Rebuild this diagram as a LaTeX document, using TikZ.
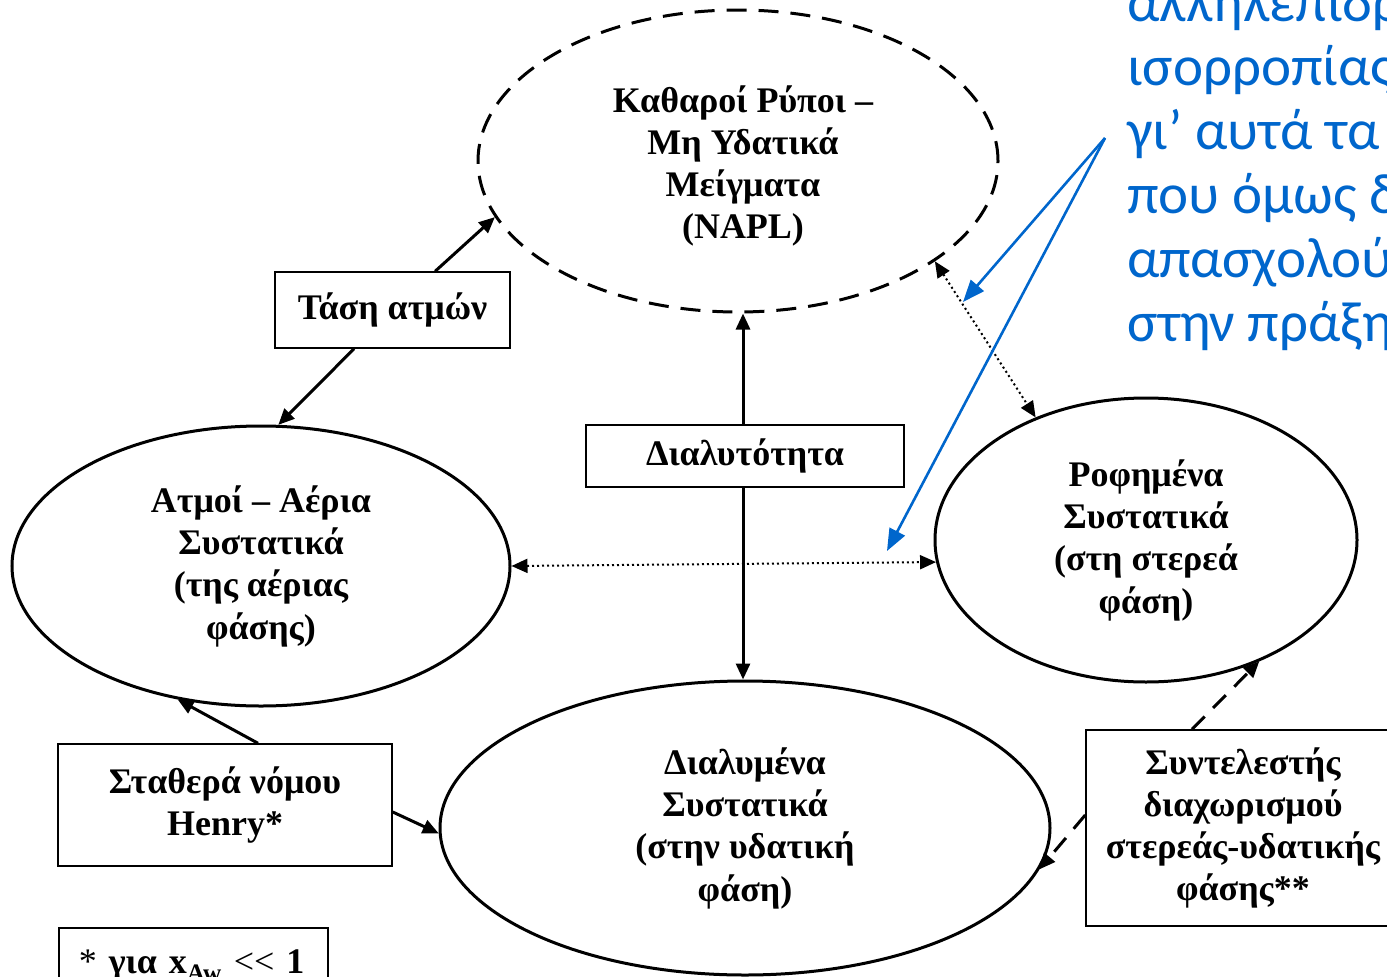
\documentclass[tikz,border=0pt]{standalone}
\usepackage{fontspec}
\setmainfont{Liberation Serif}
\newfontfamily\bluefont{Carlito}
\usetikzlibrary{shapes.geometric,arrows.meta,calc}
\definecolor{noteblue}{RGB}{0,102,204}
\begin{document}
\begin{tikzpicture}[x=1pt,y=-1pt,
  phase/.style={ellipse,draw,line width=3pt,inner sep=0pt,align=center,
    font=\bfseries\fontsize{36}{42.3}\selectfont},
  phasetext/.style={inner sep=0pt,align=center,font=\bfseries\fontsize{36}{42.3}\selectfont},
  propbox/.style={rectangle,draw,line width=1.5pt,inner sep=0pt,align=center,fill=white,
    font=\bfseries\fontsize{36}{42}\selectfont},
  tip/.style={-{Triangle[length=16pt,width=14pt]}},
  bitip/.style={{Triangle[length=16pt,width=14pt]}-{Triangle[length=16pt,width=14pt]}},
  solidlink/.style={line width=3pt},
  dotlink/.style={line width=2pt,dash pattern=on 2pt off 3pt},
  dashlink/.style={line width=3pt,dash pattern=on 18pt off 12pt},
  bluearrow/.style={noteblue,line width=2.6pt,-{Triangle[length=22pt,width=17pt]}}
]
\useasboundingbox (0,0) rectangle (1387,977);
\clip (0,0) rectangle (1387,977);

% phases
\node[phase,minimum width=520pt,minimum height=302pt,dash pattern=on 20pt off 12pt] (napl) at (738,161) {};
\node[phasetext] (napllabel) at (743,166) {Καθαροί Ρύποι –\\Μη Υδατικά\\Μείγματα\\(NAPL)};
\node[phase,minimum width=498pt,minimum height=280pt] (vap) at (261,566)
  {Ατμοί – Αέρια\\Συστατικά\\(της αέριας\\φάσης)};
\node[phase,minimum width=422pt,minimum height=284pt] (sorb) at (1146,540)
  {Ροφημένα\\Συστατικά\\(στη στερεά\\φάση)};
\node[phase,minimum width=610pt,minimum height=294pt] (diss) at (745,828)
  {Διαλυμένα\\Συστατικά\\(στην υδατική\\φάση)};

% property boxes
\node[propbox,minimum width=235pt,minimum height=76pt] (vp) at (392.5,310) {Τάση ατμών};
\node[propbox,minimum width=318pt,minimum height=62pt] (sol) at (745,456) {Διαλυτότητα};
\node[propbox,minimum width=334pt,minimum height=122pt] (henry) at (225,805) {Σταθερά νόμου\\Henry*};
\node[propbox,minimum width=314pt,minimum height=196pt] (kd) at (1243,828)
  {Συντελεστής\\διαχωρισμού\\στερεάς-υδατικής\\φάσης**};
\node[propbox,minimum height=76pt,anchor=north west,inner xsep=20pt,text width=229pt,align=left,
  font=\fontsize{36}{42}\selectfont] (note) at (58,927)
  {* \textbf{για x\textsubscript{\raisebox{-4pt}{Aw}}} <{}< \textbf{1}};

% connectors
\draw[solidlink,tip] (vp) -- (napl.193);
\draw[solidlink,tip] (vp) -- (vap.83.5);
\draw[solidlink,tip] ($(sol.north)+(-2,0)$) -- ($(sol.north |- napl.south)+(-2,0)$);
\draw[solidlink,tip] ($(sol.south)+(-2,0)$) -- ($(diss.north -| sol.south)+(-2,0)$);
\draw[dotlink,bitip] (vap.east) -- (sorb.186.3);
\draw[dotlink,bitip] (napl.333.7) -- (sorb.132.8);
\draw[solidlink,tip] ($(henry.north)+(33,0)$) -- (vap.238.6);
\draw[solidlink,tip] ($(henry.east)+(0,7)$) -- (diss.181);
\draw[dashlink,tip] ($(kd.north)+(-51,0)$) -- (sorb.313.6);
\draw[dashlink,tip] ($(kd.west)+(0,-13)$) -- (diss.352.7);

% blue annotation
\coordinate (bsrc) at (1105,138);
\coordinate (btipa) at (963,302);
\coordinate (btipb) at (887,551);
\draw[bluearrow] (bsrc) -- (btipa);
\draw[bluearrow] (bsrc) -- (btipb);
\node[anchor=base west,inner sep=0pt,align=left,text=noteblue,
  font=\bluefont\fontsize{57}{64}\selectfont] (bnote) at (1127,341)
  {αλληλεπιδράσεις\\ισορροπίας\\γι’ αυτά τα δύο\\που όμως δεν\\απασχολούν\\στην πράξη};
\end{tikzpicture}
\end{document}
